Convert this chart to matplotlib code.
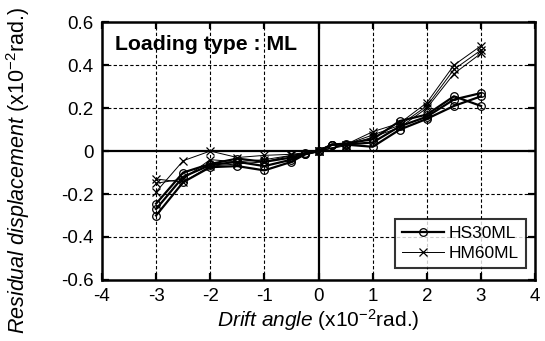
import matplotlib
matplotlib.use("Agg")
import matplotlib.pyplot as plt

plt.rcParams['font.family'] = ['Liberation Sans', 'DejaVu Sans']
plt.rcParams['mathtext.fontset'] = 'custom'
plt.rcParams['mathtext.rm'] = 'Liberation Sans'
plt.rcParams['mathtext.it'] = 'Liberation Sans:italic'
plt.rcParams['mathtext.bf'] = 'Liberation Sans:bold'
plt.rcParams['axes.unicode_minus'] = False

# Data
hs_x = [-3, -2.5, -2, -1.5, -1, -0.5, -0.25, 0, 0.25, 0.5, 1, 1.5, 2, 2.5, 3]
hs_c1 = [-0.30, -0.145, -0.075, -0.07, -0.09, -0.05, -0.015, 0, 0.03, 0.03, 0.02, 0.10, 0.15, 0.21, 0.255]
hs_c2 = [-0.27, -0.12, -0.065, -0.05, -0.07, -0.04, -0.015, 0, 0.03, 0.03, 0.04, 0.115, 0.16, 0.24, 0.27]
hs_c3 = [-0.245, -0.10, -0.06, -0.035, -0.05, -0.03, -0.01, 0, 0.03, 0.035, 0.055, 0.14, 0.17, 0.255, 0.21]

hm_x = [-3, -2.5, -2, -1.5, -1, -0.5, 0, 0.5, 1, 1.5, 2, 2.5, 3]
hm_c1 = [-0.19, -0.045, 0.0, -0.03, -0.02, -0.015, 0, 0.03, 0.09, 0.13, 0.225, 0.40, 0.49]
hm_c2 = [-0.15, -0.13, -0.04, -0.05, -0.04, -0.02, 0, 0.03, 0.075, 0.12, 0.21, 0.38, 0.47]
hm_c3 = [-0.13, -0.145, -0.07, -0.06, -0.05, -0.02, 0, 0.025, 0.065, 0.11, 0.20, 0.36, 0.455]

xticks = [-4, -3, -2, -1, 0, 1, 2, 3, 4]
yticks = [-0.6, -0.4, -0.2, 0, 0.2, 0.4, 0.6]
ytick_labels = ['-0.6', '-0.4', '-0.2', '0', '0.2', '0.4', '0.6']

fig = plt.figure(figsize=(5.45, 3.41), dpi=100)
ax = fig.add_axes([0.187, 0.179, 0.795, 0.756])

# grid
for xv in [-3, -2, -1, 1, 2, 3]:
    ax.axvline(xv, color='black', lw=0.8, ls=(0, (3, 2)), zorder=1)
for yv in [-0.4, -0.2, 0.2, 0.4]:
    ax.axhline(yv, color='black', lw=0.8, ls=(0, (3, 2)), zorder=1)
ax.axvline(0, color='black', lw=1.6, zorder=1)
ax.axhline(0, color='black', lw=1.6, zorder=1)

for i, c in enumerate([hm_c1, hm_c2, hm_c3]):
    ax.plot(hm_x, c, color='black', lw=0.7, marker='x', ms=6, mew=0.9,
            label='HM60ML' if i == 0 else None, zorder=3)
for i, c in enumerate([hs_c1, hs_c2, hs_c3]):
    ax.plot(hs_x, c, color='black', lw=1.6, marker='o', ms=5.5, mfc='none', mew=0.9,
            label='HS30ML' if i == 0 else None, zorder=4)

ax.set_xlim(-4, 4)
ax.set_ylim(-0.6, 0.6)
ax.set_xticks(xticks)
ax.set_yticks(yticks)
ax.set_yticklabels(ytick_labels)
ax.tick_params(direction='in', length=5, width=1.6, labelsize=13.5,
               top=True, right=True, pad=6)
for s in ax.spines.values():
    s.set_linewidth(1.8)

ax.set_xlabel(r'$\it{Drift\ angle}$ (x10$^{-2}$rad.)', fontsize=15, labelpad=1)
fig.text(0.033, 0.50, r'$\it{Residual\ displacement}$ (x10$^{-2}$rad.)', fontsize=15.5,
         rotation=90, ha='center', va='center')

ax.text(0.03, 0.95, 'Loading type : ML', transform=ax.transAxes, fontsize=15.3,
        fontweight='bold', va='top', ha='left')

handles, labels = ax.get_legend_handles_labels()
order = [labels.index('HS30ML'), labels.index('HM60ML')]
leg = ax.legend([handles[i] for i in order], [labels[i] for i in order],
                loc='lower right', bbox_to_anchor=(0.979, 0.045), borderaxespad=0,
                fontsize=12.5, frameon=True, fancybox=False, edgecolor='black',
                handlelength=2.4, borderpad=0.4, labelspacing=0.3, handletextpad=0.3)
leg.get_frame().set_linewidth(1.5)

fig.savefig('out.png', dpi=100)
